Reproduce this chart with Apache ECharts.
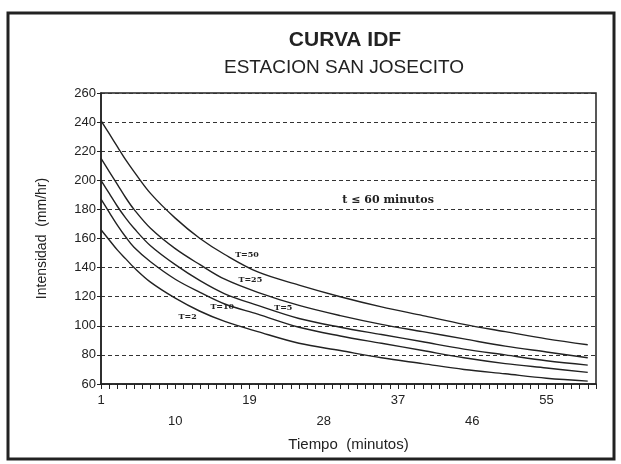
<!DOCTYPE html>
<html>
<head>
<meta charset="utf-8">
<script src="https://cdn.jsdelivr.net/npm/echarts@6/dist/echarts.min.js"></script>
<style>
  html, body { margin: 0; padding: 0; background: #fff; }
  #main { width: 621px; height: 464px; }
</style>
</head>
<body>
<div id="main"></div>
<script>
// minutos donde se leyeron los valores de cada curva
const minutos = [1, 2, 3, 4, 5, 7, 10, 13, 16, 20, 25, 30, 35, 40, 45, 50, 55, 60];

// intensidad (mm/hr) por periodo de retorno
const t50 = [241, 232, 223, 214, 206, 191, 174, 160, 149, 137, 128, 120, 113, 107, 101, 96, 91, 87];
const t25 = [215, 206, 197, 188, 180, 167, 153, 142, 132, 123, 114, 107, 101, 96, 91, 86, 82, 78];
const t10 = [200, 191, 182, 174, 167, 155, 142, 131, 122, 114, 105, 99, 94, 89, 84, 80, 76, 73];
const t5 = [187, 178, 169, 161, 154, 144, 132, 123, 115, 108, 99, 93, 88, 83, 78, 74, 71, 68];
const t2 = [166, 159, 152, 146, 140, 130, 119, 110, 103, 96, 88, 83, 78, 74, 70, 67, 64, 62];

const curvas = [t50, t25, t10, t5, t2];
const nombres = ['T=50', 'T=25', 'T=10', 'T=5', 'T=2'];

// ticks y etiquetas del eje x
const xLabels = [1, 10, 19, 28, 37, 46, 55];
const xTicks = [];
for (let m = 1; m <= 61; m++) xTicks.push(m);

// donde van las etiquetas escritas a mano (en unidades del grafico)
const etiquetas = [
  { texto: 'T=50', m: 18.7, v: 148.5 },
  { texto: 'T=25', m: 19.1, v: 131.5 },
  { texto: 'T=10', m: 15.7, v: 113 },
  { texto: 'T=5', m: 23.1, v: 112 },
  { texto: 'T=2', m: 11.5, v: 106 }
];
const nota = { texto: 't \u2264 60 minutos', m: 35.8, v: 186.5 };

const ink = '#222';
const fuente = '"Liberation Sans", Arial, sans-serif';

let myChart = echarts.init(document.getElementById('main'));

let option = {
  backgroundColor: '#fff',
  animation: false,
  graphic: [
    {
      type: 'rect',
      shape: { x: 8, y: 13, width: 606, height: 446 },
      style: { fill: 'none', stroke: ink, lineWidth: 3 }
    },
    {
      type: 'text', x: 345, y: 40,
      style: { text: 'CURVA IDF', textAlign: 'center', textVerticalAlign: 'middle',
        font: 'bold 21px ' + fuente, fill: ink }
    },
    {
      type: 'text', x: 344, y: 68,
      style: { text: 'ESTACION SAN JOSECITO', textAlign: 'center', textVerticalAlign: 'middle',
        font: '19px ' + fuente, fill: ink }
    }
  ],
  grid: {
    left: 101, right: 25, top: 93, bottom: 80,
    show: true, borderColor: ink, borderWidth: 1.5
  },
  xAxis: {
    type: 'value',
    min: 1,
    max: 61,
    name: 'Tiempo  (minutos)',
    nameLocation: 'middle',
    nameGap: 49,
    nameTextStyle: { fontSize: 15, color: ink, fontFamily: fuente },
    axisLine: { show: true, lineStyle: { color: ink, width: 1.5 } },
    axisTick: { show: true, customValues: xTicks, length: 5, lineStyle: { color: ink } },
    axisLabel: {
      customValues: xLabels,
      margin: 6,
      lineHeight: 21,
      fontSize: 13,
      color: ink,
      fontFamily: fuente,
      formatter: function (v) {
        // filas alternadas como en la grafica original
        return ((v - 1) / 9) % 2 === 1 ? '\n' + v : '' + v;
      }
    },
    splitLine: { show: false }
  },
  yAxis: {
    type: 'value',
    min: 60,
    max: 260,
    interval: 20,
    name: 'Intensidad  (mm/hr)',
    nameLocation: 'middle',
    nameGap: 52,
    nameTextStyle: { fontSize: 14, color: ink, fontFamily: fuente },
    axisLine: { show: true, lineStyle: { color: ink, width: 1.5 } },
    axisTick: { show: true, length: 4, lineStyle: { color: ink } },
    axisLabel: { fontSize: 13, color: ink, fontFamily: fuente, margin: 5 },
    splitLine: { show: true, lineStyle: { color: '#333', type: [4, 3], width: 1.2 } }
  },
  series: curvas.map(function (arr, i) {
    let marcas = [{
      coord: [etiquetas[i].m, etiquetas[i].v],
      label: { formatter: etiquetas[i].texto }
    }];
    if (i === 0) {
      marcas.push({
        coord: [nota.m, nota.v],
        label: { formatter: nota.texto, fontSize: 11, fontWeight: 'bold' }
      });
    }
    return {
      name: nombres[i],
      type: 'line',
      smooth: 0.35,
      symbol: 'none',
      lineStyle: { color: ink, width: 1.4 },
      data: minutos.map((m, k) => [m, arr[k]]),
      markPoint: {
        symbol: 'circle',
        symbolSize: 0,
        silent: true,
        label: {
          show: true,
          position: 'inside',
          fontSize: 8,
          fontWeight: 'bold',
          fontFamily: '"DejaVu Serif", serif',
          color: ink
        },
        data: marcas
      }
    };
  })
};

option && myChart.setOption(option);
</script>
</body>
</html>
